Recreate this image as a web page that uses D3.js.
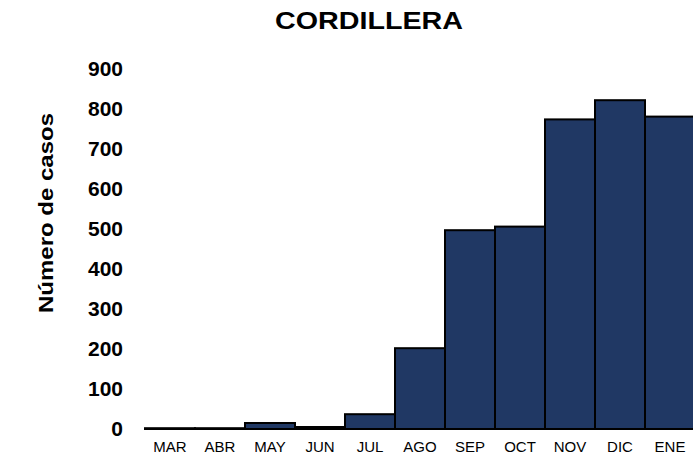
<!DOCTYPE html>
<html>
<head>
<meta charset="utf-8">
<script src="https://cdn.jsdelivr.net/npm/d3@7"></script>
<style>
  body { margin: 0; background: #fff; }
  text { font-family: "Liberation Sans", Arial, sans-serif; fill: #000; }
</style>
</head>
<body>
<div id="chart"></div>
<script>
const months = ['MAR', 'ABR', 'MAY', 'JUN', 'JUL', 'AGO', 'SEP', 'OCT', 'NOV', 'DIC', 'ENE'];
const cases = [2, 2, 15, 5, 37, 202, 497, 506, 774, 822, 781];
const yTicks = [0, 100, 200, 300, 400, 500, 600, 700, 800, 900];

const width = 693;
const height = 455;
const plotLeft = 145;
const plotRight = 695;
const plotTop = 69;
const plotBottom = 429;

const svg = d3.select('#chart')
  .append('svg')
  .attr('width', width)
  .attr('height', height);

const x = d3.scaleBand().domain(months).range([plotLeft, plotRight]).padding(0);
const y = d3.scaleLinear().domain([0, 900]).range([plotBottom, plotTop]);

// baseline
svg.append('line')
  .attr('x1', plotLeft)
  .attr('x2', width)
  .attr('y1', plotBottom + 0.5)
  .attr('y2', plotBottom + 0.5)
  .attr('stroke', '#c8c8c8')
  .attr('stroke-width', 1);

svg.selectAll('.bar')
  .data(months)
  .enter()
  .append('rect')
  .attr('class', 'bar')
  .attr('x', d => x(d))
  .attr('y', (d, i) => y(cases[i]))
  .attr('width', x.bandwidth())
  .attr('height', (d, i) => plotBottom - y(cases[i]))
  .attr('fill', '#203864')
  .attr('stroke', '#000')
  .attr('stroke-width', 2);

const xAxis = d3.axisBottom(x).tickSize(0).tickPadding(12);
svg.append('g')
  .attr('transform', `translate(0, ${plotBottom})`)
  .call(xAxis)
  .call(g => g.select('.domain').remove())
  .selectAll('text')
  .style('font-size', '15px')
  .style('font-family', '"Liberation Sans", Arial, sans-serif')
  .attr('fill', '#000');

const yAxis = d3.axisLeft(y).tickValues(yTicks).tickSize(0).tickPadding(0);
svg.append('g')
  .attr('transform', 'translate(123, 0)')
  .call(yAxis)
  .call(g => g.select('.domain').remove())
  .selectAll('text')
  .style('font-size', '21px')
  .style('font-weight', 'bold')
  .style('font-family', '"Liberation Sans", Arial, sans-serif')
  .attr('fill', '#000');

svg.append('text')
  .attr('x', 369)
  .attr('y', 29)
  .attr('text-anchor', 'middle')
  .attr('textLength', 188)
  .attr('lengthAdjust', 'spacingAndGlyphs')
  .style('font-size', '23px')
  .style('font-weight', 'bold')
  .text('CORDILLERA');

svg.append('text')
  .attr('transform', 'translate(53, 213) rotate(-90)')
  .attr('text-anchor', 'middle')
  .attr('textLength', 200)
  .attr('lengthAdjust', 'spacingAndGlyphs')
  .style('font-size', '21px')
  .style('font-weight', 'bold')
  .text('Número de casos');
</script>
</body>
</html>
